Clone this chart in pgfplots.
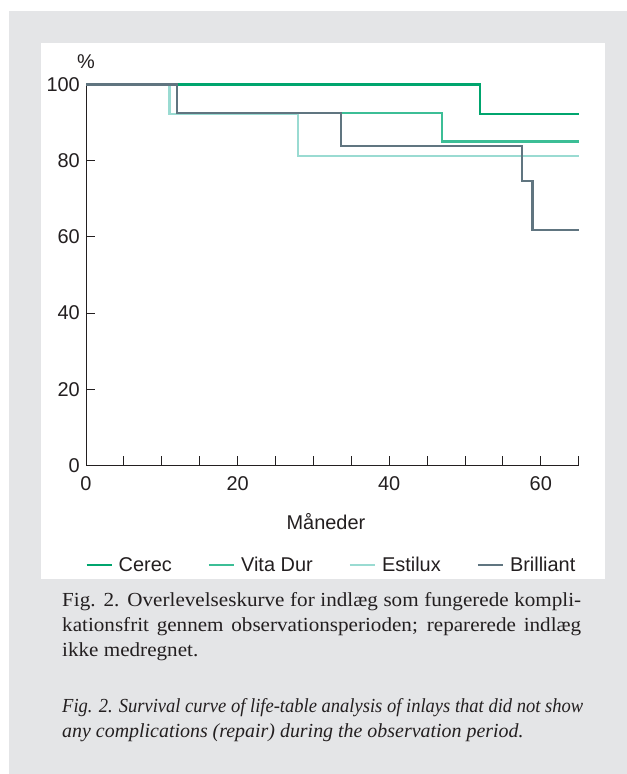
\documentclass[border=0pt]{standalone}
\usepackage{fontspec}
\usepackage{graphicx}
\setmainfont{Liberation Serif}
\newfontfamily\capup{Liberation Serif}[FakeStretch=1.06]
\newfontfamily\chartfont{Liberation Sans}
\usepackage{pgfplots}
\pgfplotsset{compat=1.18}
\definecolor{bggray}{HTML}{E4E5E7}
\definecolor{txt}{HTML}{231F20}
\definecolor{cerec}{HTML}{00A56E}
\definecolor{vitadur}{HTML}{3CBE96}
\definecolor{estilux}{HTML}{9ADBD2}
\definecolor{brilliant}{HTML}{607580}
\begin{document}
\begin{tikzpicture}[x=1bp,y=1bp]
\path[use as bounding box] (0,0) rectangle (627,774);
\fill[white] (0,0) rectangle (627,774);
\fill[bggray] (9,0) rectangle (627,763);
\fill[white] (41,195) rectangle (605,731);
\begin{axis}[
  at={(86bp,308.5bp)}, anchor=south west,
  x=7.58bp, y=3.81bp,
  xmin=0, xmax=65, ymin=0, ymax=100,
  enlargelimits=false, clip=false,
  axis lines=left,
  axis line style={draw=txt, line width=0.9bp, -},
  xtick={0,20,40,60},
  minor xtick={5,10,15,25,30,35,45,50,55,65},
  ytick={0,20,40,60,80,100},
  tick align=inside,
  major tick length=9bp, minor tick length=9bp,
  every tick/.style={draw=txt, line width=0.9bp},
  /pgf/number format/assume math mode=true,
  ticklabel style={font=\chartfont\fontsize{20}{20}\selectfont, text=txt},
  xticklabel style={anchor=north, inner sep=0pt, yshift=-11bp},
  yticklabel style={anchor=east, inner sep=0pt, xshift=-6bp},
  xlabel={Måneder},
  xlabel style={at={(axis description cs:0.487,-0.148)}, anchor=center, inner sep=0pt,
    font=\chartfont\fontsize{20}{20}\selectfont, text=txt},
  legend columns=4,
  legend style={at={(0.498,-0.261)}, anchor=center, draw=none, fill=none,
    font=\chartfont\fontsize{20}{20}\selectfont, text=txt,
    /tikz/every even column/.append style={column sep=34bp}},
  legend image code/.code={\draw[#1, line width=2.3bp] (0bp,0bp) -- (25bp,0bp); \path (29bp,0bp);},
  every axis plot/.append style={line width=2.3bp, line join=miter},
]
\addplot[cerec, const plot] coordinates {(0,100) (52,92.3) (65,92.3)};
\addlegendentry{Cerec}
\addplot[vitadur, const plot] coordinates {(0,100) (12,92.5) (47,85) (65,85)};
\addlegendentry{Vita Dur}
\addplot[estilux, const plot] coordinates {(0,100) (11,92.3) (28,81.2) (65,81.2)};
\addlegendentry{Estilux}
\addplot[brilliant, const plot] coordinates {(0,100) (12,92.6) (33.6,83.8) (57.5,74.6) (58.9,61.8) (65,61.8)};
\addlegendentry{Brilliant}
\node[font=\chartfont\fontsize{20}{20}\selectfont, text=txt] at (rel axis cs:0,1.06) {\%};
\end{axis}
\begin{scope}[every node/.style={anchor=base west, inner sep=0pt, text=txt}]
\node[font=\capup\fontsize{20}{20}\selectfont] at (62,167) {\makebox[519bp][s]{Fig. 2. Overlevelseskurve for indlæg som fungerede kompli-}};
\node[font=\capup\fontsize{20}{20}\selectfont] at (62,142) {\makebox[519bp][s]{kationsfrit gennem observationsperioden; reparerede indlæg}};
\node[font=\capup\fontsize{20}{20}\selectfont] at (62,117) {ikke medregnet.};
\node[font=\fontsize{20}{20}\selectfont\itshape] at (62,61) {\resizebox{521bp}{\height}{Fig. 2. Survival curve of life-table analysis of inlays that did not show}};
\node[font=\fontsize{20}{20}\selectfont\itshape] at (62,36) {any complications (repair) during the observation period.};
\end{scope}
\end{tikzpicture}
\end{document}
